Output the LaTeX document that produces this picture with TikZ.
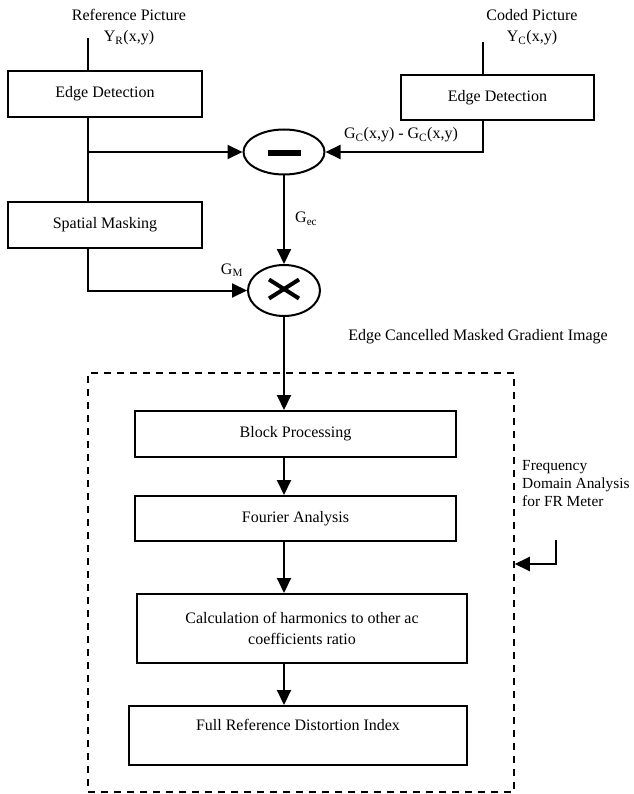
\documentclass[tikz,border=0pt]{standalone}
\usepackage{fontspec}
\setmainfont{Liberation Serif}
\usepackage{tikz}
\usetikzlibrary{positioning,arrows.meta,shapes.geometric}

\begin{document}
\begin{tikzpicture}[x=1pt,y=-1pt,
    every node/.style={font=\fontsize{16}{21}\selectfont,inner sep=2pt},
    blk/.style={draw,line width=2pt,rectangle,align=center},
    opnode/.style={draw,line width=2pt,ellipse},
    arr/.style={line width=2pt,-{Triangle[length=15pt,width=14pt]}},
    link/.style={line width=2pt},
    frame/.style={draw,line width=1.5pt,dash pattern=on 7pt off 6pt}]
  \useasboundingbox (0,0) rectangle (633,794);
  % inputs
  \node[align=center] (refLbl) at (129,27.5) {Reference Picture\\Y\textsubscript{R}(x,y)};
  \node[align=center] (codLbl) at (532,27.5) {Coded Picture\\Y\textsubscript{C}(x,y)};
  \coordinate (refTop) at (88,38);
  \coordinate (codTop) at (483,42);
  % blocks
  \node[blk,minimum width=194pt,minimum height=46pt] (edL) at (105,94) {Edge Detection};
  \node[blk,minimum width=193pt,minimum height=45pt] (edR) at (497.5,97.5) {Edge Detection};
  \node[blk,minimum width=194pt,minimum height=46pt] (sm) at (105,225) {Spatial Masking};
  \node[opnode,minimum width=81pt,minimum height=45pt] (minus) at (284,152) {};
  \node[opnode,minimum width=72pt,minimum height=51pt] (times) at (284,290.5) {};
  \draw[line width=6pt] ([shift={(-16.5,1)}]minus.center) -- ([shift={(16.5,1)}]minus.center);
  \draw[line width=4pt] ([shift={(-15,-11)}]times.center) -- ([shift={(15,8)}]times.center);
  \draw[line width=4pt] ([shift={(-15,8)}]times.center) -- ([shift={(15,-11)}]times.center);
  \node[frame,minimum width=426pt,minimum height=419pt] (fdom) at (301,582.5) {};
  \node[blk,minimum width=321pt,minimum height=46pt] (bp) at (295.5,434) {Block Processing};
  \node[blk,minimum width=321pt,minimum height=45pt] (fa) at (295.5,518.5) {Fourier Analysis};
  \node[blk,minimum width=330pt,minimum height=69pt] (calc) at (302,628.5)
      {Calculation of harmonics to other ac\\coefficients ratio};
  \node[blk,minimum width=338pt,minimum height=59pt] (frdi) at (298,735.5)
      {Full Reference Distortion Index\\\mbox{}};
  % labels
  \node (gcLbl) at (401,135) {G\textsubscript{C}(x,y) - G\textsubscript{C}(x,y)};
  \node[anchor=west] (gecLbl) at (293,219) {G\textsubscript{ec}};
  \node (gmLbl) at (232,270) {G\textsubscript{M}};
  \node (ecmLbl) at (478,337) {Edge Cancelled Masked Gradient Image};
  \node[anchor=north west,align=left,inner sep=0pt,font=\fontsize{15.4}{18}\selectfont]
      (fdaLbl) at (522,460) {Frequency\\Domain Analysis\\for FR Meter};
  % connectors
  \draw[link] (refTop) -- (refTop |- edL.north);
  \draw[link] (refTop |- edL.south) -- (refTop |- sm.north);
  \draw[arr] (refTop |- minus.west) -- (minus.west);
  \draw[link] (codTop) -- (codTop |- edR.north);
  \draw[arr] (codTop |- edR.south) -- (codTop |- minus.east) -- (minus.east);
  \draw[arr] (minus.south) -- (times.north);
  \draw[arr] (refTop |- sm.south) -- (refTop |- times.west) -- (times.west);
  \draw[arr] (times.south) -- (times.south |- bp.north);
  \draw[arr] (times.south |- bp.south) -- (times.south |- fa.north);
  \draw[arr] (times.south |- fa.south) -- (times.south |- calc.north);
  \draw[arr] (times.south |- calc.south) -- (times.south |- frdi.north);
  \coordinate (fbTop) at (556,540);
  \coordinate (fbBend) at (556,564);
  \draw[arr] (fbTop) -- (fbBend) -- (fbBend -| fdom.east);
\end{tikzpicture}
\end{document}
